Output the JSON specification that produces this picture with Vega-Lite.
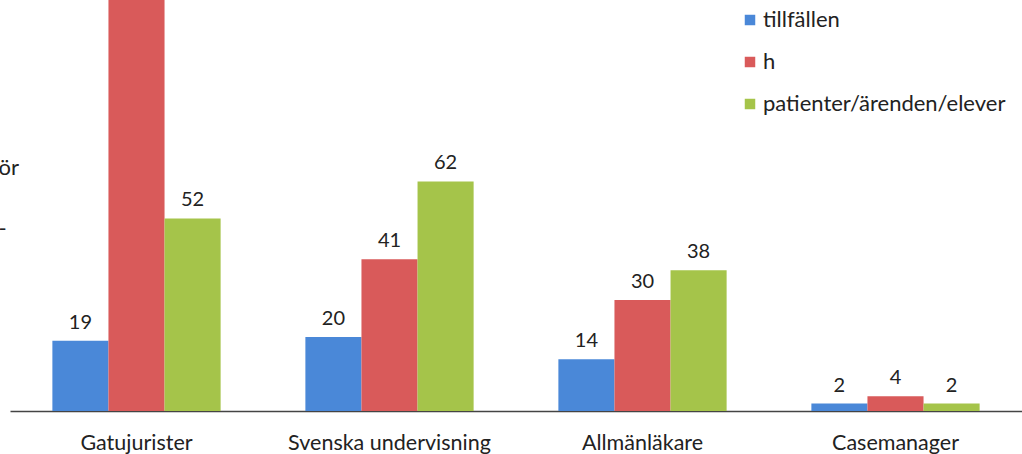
{
  "$schema": "https://vega.github.io/schema/vega-lite/v6.json",
  "width": 1012,
  "height": 411,
  "autosize": {"type": "none"},
  "padding": {"left": 10, "top": 0, "right": 0, "bottom": 43},
  "background": "white",
  "config": {
    "view": {"stroke": null},
    "font": "Lato",
    "text": {"font": "Lato"}
  },
  "data": {
    "values": [
      {"kategori": "Gatujurister", "serie": "tillfällen", "antal": 19},
      {"kategori": "Gatujurister", "serie": "h", "antal": 130},
      {"kategori": "Gatujurister", "serie": "patienter/ärenden/elever", "antal": 52},
      {"kategori": "Svenska undervisning", "serie": "tillfällen", "antal": 20},
      {"kategori": "Svenska undervisning", "serie": "h", "antal": 41},
      {"kategori": "Svenska undervisning", "serie": "patienter/ärenden/elever", "antal": 62},
      {"kategori": "Allmänläkare", "serie": "tillfällen", "antal": 14},
      {"kategori": "Allmänläkare", "serie": "h", "antal": 30},
      {"kategori": "Allmänläkare", "serie": "patienter/ärenden/elever", "antal": 38},
      {"kategori": "Casemanager", "serie": "tillfällen", "antal": 2},
      {"kategori": "Casemanager", "serie": "h", "antal": 4},
      {"kategori": "Casemanager", "serie": "patienter/ärenden/elever", "antal": 2}
    ]
  },
  "encoding": {
    "x": {
      "field": "kategori",
      "type": "nominal",
      "sort": ["Gatujurister", "Svenska undervisning", "Allmänläkare", "Casemanager"],
      "scale": {"paddingInner": 0.335, "paddingOuter": 0.1675},
      "axis": {
        "title": null,
        "labelAngle": 0,
        "ticks": false,
        "domainColor": "#444444",
        "domainWidth": 1.5,
        "labelFontSize": 21.5,
        "labelColor": "#222222",
        "labelPadding": 21,
        "labelFont": "Lato",
        "labelLimit": 400
      }
    },
    "xOffset": {
      "field": "serie",
      "type": "nominal",
      "sort": ["tillfällen", "h", "patienter/ärenden/elever"],
      "scale": {"paddingInner": 0, "paddingOuter": 0}
    },
    "y": {
      "field": "antal",
      "type": "quantitative",
      "scale": {"domain": [0, 111], "nice": false},
      "axis": {
        "labels": false,
        "ticks": false,
        "domain": false,
        "grid": false,
        "title": ["ör", "-"],
        "titleAngle": 0,
        "titleAlign": "left",
        "titleBaseline": "middle",
        "titleX": -12,
        "titleY": 167,
        "titleFontSize": 22,
        "titleFontWeight": "normal",
        "titleColor": "#222222",
        "titleLineHeight": 61,
        "titleFont": "Lato"
      }
    }
  },
  "layer": [
    {
      "mark": {"type": "bar", "clip": true},
      "encoding": {
        "color": {
          "field": "serie",
          "type": "nominal",
          "sort": ["tillfällen", "h", "patienter/ärenden/elever"],
          "scale": {
            "domain": ["tillfällen", "h", "patienter/ärenden/elever"],
            "range": ["#4a88d8", "#d95a5a", "#a5c44a"]
          },
          "legend": {
            "title": null,
            "orient": "none",
            "legendX": 729,
            "legendY": 9,
            "symbolType": "square",
            "symbolSize": 110,
            "symbolStrokeWidth": 0,
            "labelFontSize": 22,
            "labelColor": "#222222",
            "labelFont": "Lato",
            "labelLimit": 400,
            "rowPadding": 20,
            "labelOffset": 2
          }
        }
      }
    },
    {
      "transform": [{"filter": "datum.antal <= 111"}],
      "mark": {"type": "text", "baseline": "bottom", "dy": -8, "fontSize": 20, "color": "#222222", "font": "Lato"},
      "encoding": {
        "text": {"field": "antal", "type": "quantitative"}
      }
    }
  ]
}
